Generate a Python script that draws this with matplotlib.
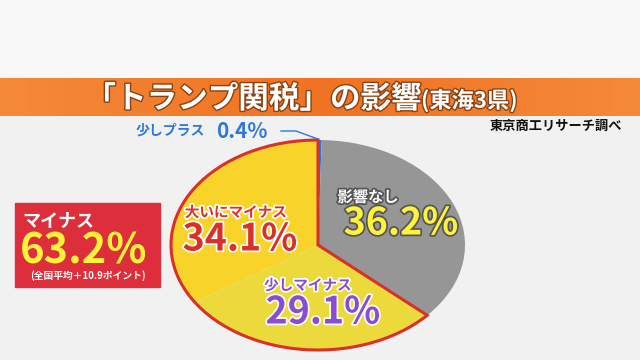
import matplotlib.pyplot as plt
import matplotlib.patheffects as pe
from matplotlib.patches import Rectangle, Wedge
from matplotlib.colors import LinearSegmentedColormap
import numpy as np

plt.rcParams['font.family'] = ['Noto Sans CJK JP', 'DejaVu Sans']

# data
labels = ['少しプラス', '影響なし', '少しマイナス', '大いにマイナス']
values = [0.4, 36.2, 29.1, 34.1]
colors = ['#2f78d8', '#969696', '#ecd93c', '#f8d42a']
minus_total = 63.2
national_diff = 10.9

title = '「トランプ関税」の影響'
subtitle = '(東海3県)'
source = '東京商工リサーチ調べ'

fig = plt.figure(figsize=(6.4, 3.6), dpi=100)

# background in pixel coordinates
bg = fig.add_axes([0, 0, 1, 1])
bg.axis('off')
bg.add_patch(Rectangle((0, 0), 640, 360, color='#f1f1f1', zorder=0))
bg.add_patch(Rectangle((0, 0), 640, 78, color='#f8f8f8', zorder=0))
grad = np.abs(np.linspace(-1, 1, 256))[None, :]
bg.imshow(grad, extent=(0, 640, 116, 78), aspect='auto', zorder=1,
          cmap=LinearSegmentedColormap.from_list('o', ['#ef7322', '#f5893a']))
bg.set_xlim(0, 640)
bg.set_ylim(360, 0)

shadow = [pe.withStroke(linewidth=2, foreground='#8a4010')]
bg.text(421, 99, title, fontsize=22, fontweight='bold', color='white',
        ha='right', va='center', path_effects=shadow, zorder=3)
bg.text(421, 101, subtitle, fontsize=16, fontweight='bold', color='white',
        ha='left', va='center', path_effects=shadow, zorder=3)
bg.text(622, 126, source, fontsize=9.5, fontweight='bold', color='#111111',
        ha='right', va='center', zorder=3)

# red box on the left
bg.add_patch(Rectangle((15, 203), 145, 84, color='#dd2e3c', zorder=2))
bg.text(22, 221, 'マイナス', fontsize=13, fontweight='bold', color='white',
        ha='left', va='center', zorder=3)
bg.text(20, 251, f'{minus_total}%', fontsize=30, fontweight='bold',
        color='#fff23a', ha='left', va='center', zorder=3)
bg.text(88, 276, f'(全国平均＋{national_diff}ポイント)', fontsize=7,
        fontweight='bold', color='white', ha='center', va='center', zorder=3)

# elliptical pie
ax = fig.add_axes([171 / 640, 10 / 360, 294 / 640, 210 / 360])
ax.pie(values, colors=colors, startangle=90, counterclock=False,
       wedgeprops=dict(linewidth=0))
ax.set_aspect('auto')
ax.set_xlim(-1, 1)
ax.set_ylim(-1, 1)

# red outline around the minus slices
cum = sum(values[:2]) / sum(values)
ax.add_patch(Wedge((0, 0), 1, 90, 90 - 360 * cum + 360, fill=False,
                   edgecolor='#d9302c', linewidth=2.2, clip_on=False))

# overlay for slice labels
fg = fig.add_axes([0, 0, 1, 1])
fg.axis('off')
fg.set_xlim(0, 640)
fg.set_ylim(360, 0)

white_stroke = [pe.withStroke(linewidth=2.5, foreground='white')]
dark_stroke = [pe.withStroke(linewidth=2.5, foreground='#555555')]

fg.text(368, 197, labels[1], fontsize=11, fontweight='bold', color='white',
        ha='center', va='center', path_effects=dark_stroke)
fg.text(401, 223, f'{values[1]}%', fontsize=27, fontweight='bold',
        color='#fff23a', ha='center', va='center', path_effects=dark_stroke)
fg.text(236, 212, labels[3], fontsize=10.5, fontweight='bold',
        color='#d9302c', ha='center', va='center', path_effects=white_stroke)
fg.text(240, 239, f'{values[3]}%', fontsize=27, fontweight='bold',
        color='#d9302c', ha='center', va='center', path_effects=white_stroke)
fg.text(308, 285, labels[2], fontsize=10.5, fontweight='bold',
        color='#8a4cd0', ha='center', va='center', path_effects=white_stroke)
fg.text(323, 312, f'{values[2]}%', fontsize=27, fontweight='bold',
        color='#8a4cd0', ha='center', va='center', path_effects=white_stroke)

# small plus label with leader line
fg.text(205, 131, labels[0], fontsize=10, fontweight='bold', color='#2f78d8',
        ha='right', va='center')
fg.text(216, 131, f'{values[0]}%', fontsize=15, fontweight='bold',
        color='#2f78d8', ha='left', va='center')
ang = np.deg2rad(90 - 360 * values[0] / sum(values) / 2)
fig.canvas.draw()
tip = ax.transData.transform((np.cos(ang), np.sin(ang)))
tip = fg.transData.inverted().transform(tip)
fg.plot([281, 296, tip[0] - 2], [131, 131, tip[1] - 1], color='#2f78d8',
        linewidth=1)
fg.set_xlim(0, 640)
fg.set_ylim(360, 0)

fig.savefig('out.png', dpi=100)
